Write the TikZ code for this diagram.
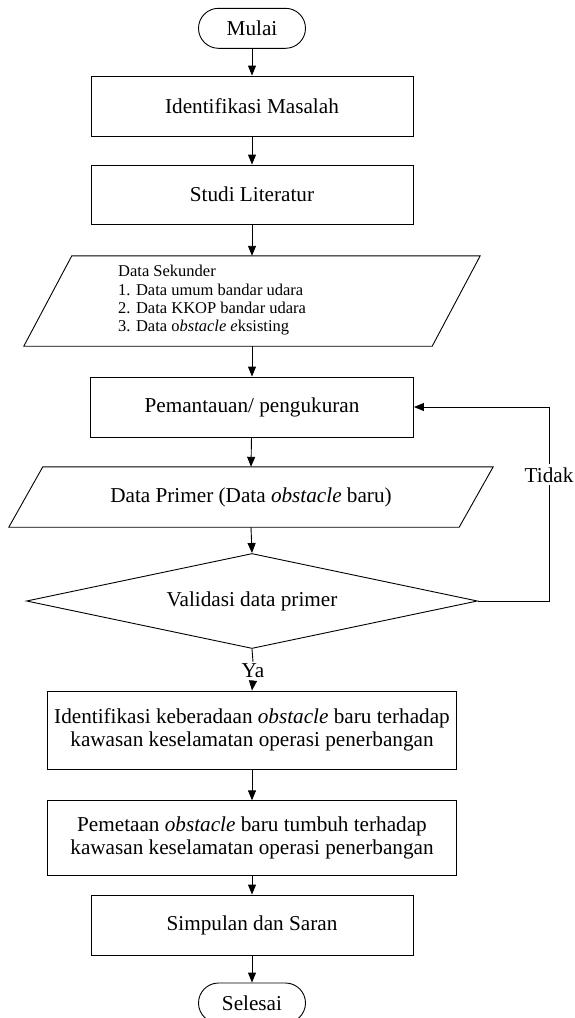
\documentclass[tikz,border=0pt]{standalone}
\usepackage{fontspec}
\setmainfont{Liberation Serif}
\usetikzlibrary{arrows.meta,shapes.geometric,calc}
\begin{document}
\begin{tikzpicture}[x=1pt,y=-1pt,
  every node/.style={font=\fontsize{21.2}{23}\selectfont, inner sep=0pt},
  line/.style={line width=0.9pt, draw=black},
  arr/.style={line width=0.9pt, -{Triangle[length=10pt,width=8pt]}},
  proc/.style={draw, line width=0.9pt, rectangle, align=center},
  term/.style={draw, line width=0.9pt, rectangle, rounded corners=20pt, minimum width=107pt, minimum height=40pt},
  lbl/.style={fill=white, inner sep=3pt}]
\useasboundingbox (0,0) rectangle (575,1018);
% nodes
\node[term] (start) at (252,28.3) {Mulai};
\node[proc, minimum width=322pt, minimum height=60pt] (b1) at (252,106) {Identifikasi Masalah};
\node[proc, minimum width=322pt, minimum height=59pt] (b2) at (252,194.5) {Studi Literatur};
\node[minimum width=408pt, minimum height=90pt] (ds) at (252,301) {};
\draw[line] ([xshift=24pt]ds.north west) -- ([xshift=24pt]ds.north east) -- ([xshift=-24pt]ds.south east) -- ([xshift=-24pt]ds.south west) -- cycle;
\node[anchor=west, align=left, font=\fontsize{16.5}{18.3}\selectfont] (dstext) at (118,300.5) {Data Sekunder\\1. Data umum bandar udara\\2. Data KKOP bandar udara\\3. Data o\textit{bstacle e}ksisting};
\node[proc, minimum width=323pt, minimum height=60pt] (b3) at (252,407) {Pemantauan/ pengukuran};
\node[minimum width=450pt, minimum height=60pt] (dp) at (251,497) {Data Primer (Data \textit{obstacle} baru)};
\draw[line] ([xshift=17pt]dp.north west) -- ([xshift=17pt]dp.north east) -- ([xshift=-17pt]dp.south east) -- ([xshift=-17pt]dp.south west) -- cycle;
\node[diamond, draw, line width=0.9pt, minimum width=451pt, minimum height=95pt, aspect=4.75] (val) at (252,601) {Validasi data primer};
\node[inner sep=2pt] (ya) at (253,671) {Ya};
\node[proc, minimum width=409pt, minimum height=78pt] (b6) at (252,730) {Identifikasi keberadaan \textit{obstacle} baru terhadap\\kawasan keselamatan operasi penerbangan};
\node[proc, minimum width=409pt, minimum height=75pt] (b7) at (252,838.3) {Pemetaan \textit{obstacle} baru tumbuh terhadap\\kawasan keselamatan operasi penerbangan};
\node[proc, minimum width=322pt, minimum height=60pt] (b8) at (252,925) {Simpulan dan Saran};
\node[term] (stop) at (252,1003) {Selesai};
\coordinate (c1) at (549,601);
\coordinate (c2) at (549,407);
% connectors
\draw[arr] (start) -- (b1);
\draw[arr] (b1) -- (b2);
\draw[arr] (b2) -- (ds.north);
\draw[arr] (ds.south) -- (b3);
\draw[arr] (b3) -- (dp.north);
\draw[arr] (dp.south) -- (val.north);
\draw[line] (val.south) -- (ya.north);
\draw[arr] (ya.south) -- (b6.north);
\draw[arr] (b6) -- (b7);
\draw[arr] (b7) -- (b8);
\draw[arr] (b8) -- (stop);
\draw[arr] (val.east) -- (c1) -- node[lbl, pos=0.65] {Tidak} (c2) -- (b3.east);
\end{tikzpicture}
\end{document}
